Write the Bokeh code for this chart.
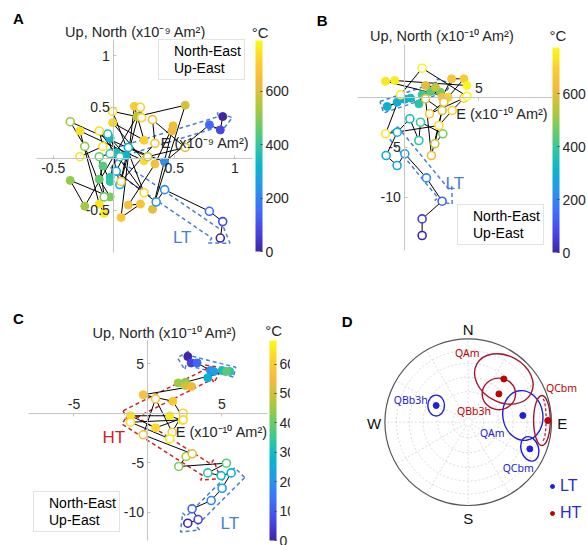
import math
from bokeh.plotting import figure
from bokeh.models import (ColumnDataSource, LinearColorMapper, ColorBar, FixedTicker,
                          Label, Legend, LegendItem, CustomJSTickFormatter)
from bokeh.layouts import row, column
from bokeh.core.properties import value
from bokeh.embed import file_html
from bokeh.resources import INLINE

# ---------------------------------------------------------------- data
# Panel A  (x10^-9 Am^2)
a_ne_temp = [0, 80, 150, 220, 300, 320, 340, 350, 370, 390, 440, 460, 480, 510, 530, 560,
             590, 610, 630, 640, 650, 660, 670, 680, 700, 710, 720, 730, 740, 750, 760]
a_ne_east = [0.90, 0.88, 0.79, 0.42, 0.12, 0.10, -0.03, 0.02, -0.03, -0.03, -0.09, -0.12,
             -0.03, -0.36, -0.24, 0.19, 0.59, 0.32, 0.48, 0.49, 0.34, 0.12, 0.22, 0.06,
             0.17, 0.25, -0.01, 0.25, -0.28, -0.12, -0.08]
a_ne_north = [0.41, 0.28, 0.33, -0.03, 0.11, 0.03, 0.20, 0.06, -0.18, -0.22, -0.07, -0.20,
              -0.37, -0.21, -0.46, 0.41, 0.52, -0.49, 0.27, 0.32, -0.05, -0.45, -0.44, -0.57,
              0.51, 0.18, 0.35, -0.02, 0.27, -0.44, -0.53]
a_ue_temp = [0, 80, 150, 220, 240, 270, 300, 320, 350, 370, 420, 460, 480, 500, 520, 560,
             590, 640, 660, 680, 700, 710, 720, 730, 740, 745, 755]
a_ue_east = [0.88, 0.90, 0.79, 0.42, 0.35, 0.02, 0.12, 0.05, -0.05, 0.05, -0.03, -0.12,
             -0.08, -0.24, -0.36, 0.28, 0.59, 0.32, 0.34, 0.06, 0.22, 0.23, -0.01, 0.25,
             -0.12, -0.09, -0.28]
a_ue_up = [-0.77, -0.61, -0.51, -0.30, -0.42, -0.12, 0.11, -0.25, 0.24, 0.02, 0.05, 0.02,
           -0.37, 0.12, 0.36, 0.02, 0.11, 0.38, 0.15, -0.22, 0.50, 0.40, 0.46, -0.33,
           0.27, 0.12, 0.02]

# Panel B  (x10^-10 Am^2)
b_ne_temp = [250, 270, 290, 300, 330, 370, 400, 440, 470, 560, 600, 640, 660, 680, 700,
             740, 750, 765]
b_ne_east = [-0.07, 0.00, -0.51, -1.19, 0.39, 0.95, 1.17, 1.74, 2.41, 2.07, 1.40, 2.52,
             3.16, 3.99, 2.93, -1.30, -0.68, 4.20]
b_ne_north = [-0.16, -0.20, -0.50, -0.93, -0.10, -0.66, 0.24, 0.57, 0.50, 1.00, 1.17, 0.00,
              1.84, 1.84, 0.00, 1.60, 1.67, 1.17]
b_ue_temp = [0, 60, 130, 200, 250, 270, 290, 300, 330, 370, 400, 470, 560, 590, 600, 620,
             640, 660, 680, 700, 720, 740, 750, 760, 770]
b_ue_east = [1.17, 1.17, 2.52, 1.46, 0.00, -0.52, -1.26, -0.51, 0.34, 0.95, 1.06, 2.57,
             2.03, 2.52, 1.40, 1.80, 2.64, 1.67, 3.99, 3.20, 2.30, -1.30, -0.29, 1.17, 4.20]
b_ue_up = [-13.83, -12.17, -10.40, -8.07, -5.66, -6.83, -5.83, -3.50, -2.16, -4.33, -2.50,
           -3.66, -4.66, -1.33, -0.16, -5.83, -0.50, -1.66, -0.10, -1.33, -2.83, -3.66,
           0.24, 2.90, 0.10]

# Panel C  (x10^-10 Am^2)
c_ne_temp = [0, 60, 120, 180, 220, 260, 300, 330, 380, 420, 450, 500, 540, 570, 590, 610,
             625, 640, 655, 670]
c_ne_east = [2.69, 2.92, 3.32, 4.22, 4.45, 4.04, 5.01, 5.53, 5.30, 2.53, 2.04, 2.53, 2.94,
             -0.32, 1.68, 2.38, 0.51, -1.18, 1.47, 2.31]
c_ne_north = [5.72, 5.08, 5.08, 4.31, 4.21, 3.57, 4.31, 4.21, 4.24, 3.13, 3.06, 2.79, 2.69,
              1.86, 1.21, -0.47, -1.48, -0.26, -0.26, -0.74]
c_ue_temp = [0, 60, 120, 180, 220, 260, 300, 330, 380, 420, 460, 520, 560, 580, 595, 610,
             625, 640, 655]
c_ue_east = [2.69, 3.39, 2.98, 4.27, 5.01, 5.62, 4.94, 4.04, 5.30, 2.08, 2.58, 2.99, -0.32,
             0.51, 1.63, 2.38, 2.38, -1.18, 1.47]
c_ue_up = [-11.11, -10.74, -9.66, -8.82, -7.58, -6.03, -6.30, -6.03, -5.05, -5.38, -4.37,
           -4.10, -2.18, 1.45, -1.92, 0.00, -0.67, -0.91, -2.59]

# Panel D  (equal-area stereonet)
d_sites = ["QBb3h", "QAm", "QCbm"]
d_lt_dec = [297.5, 83.0, 113.4]
d_lt_inc = [54.3, 34.3, 20.5]
d_ht_dec = [47.3, 39.5, 88.8]
d_ht_inc = [48.5, 33.2, 5.0]
d_lt_a95_w = [0.20, 0.48, 0.21]
d_lt_a95_h = [0.25, 0.60, 0.30]
d_lt_a95_rot = [0.0, 0.15, 0.3]
d_ht_a95_w = [0.40, 0.74, 0.20]
d_ht_a95_h = [0.38, 0.56, 0.60]
d_ht_a95_rot = [0.0, -0.5, 0.0]
d_ht_a95_shift = [0.0, 0.0, -0.07]

# ---------------------------------------------------------------- style helpers
FONT = "Liberation Sans"
TXT = "#262626"
LT_BLUE = "#4a7ed6"
HT_RED = "#d02222"
AXLAB = "14.5px"

_anch = [(0.2422, 0.1504, 0.6603), (0.2803, 0.2782, 0.9221), (0.2440, 0.4358, 0.9988),
         (0.1540, 0.5902, 0.9218), (0.0297, 0.7082, 0.8163), (0.1900, 0.7800, 0.6300),
         (0.4400, 0.8000, 0.3800), (0.7200, 0.7800, 0.2200), (0.9500, 0.7300, 0.2400),
         (0.9900, 0.8100, 0.1800), (0.9769, 0.9839, 0.0805)]


def _parula(n=256):
    out = []
    for i in range(n):
        f = i / (n - 1) * (len(_anch) - 1)
        k = min(int(f), len(_anch) - 2)
        t = f - k
        c = [_anch[k][j] * (1 - t) + _anch[k + 1][j] * t for j in range(3)]
        out.append("#%02x%02x%02x" % tuple(int(round(v * 255)) for v in c))
    return out


PARULA = _parula()


def base_fig(w, h, xr, yr, xloc):
    p = figure(width=w, height=h, x_range=xr, y_range=yr, output_backend="svg",
               toolbar_location=None, min_border=0, x_axis_location=xloc,
               y_axis_location="left")
    p.outline_line_color = None
    p.grid.visible = False
    p.title.visible = False
    p.background_fill_color = "white"
    p.border_fill_color = "white"
    return p


def style_axes(p, xticks, yticks, xbounds, ybounds):
    for ax, ticks, bounds in ((p.xaxis[0], xticks, xbounds), (p.yaxis[0], yticks, ybounds)):
        ax.fixed_location = 0
        ax.bounds = bounds
        ax.ticker = FixedTicker(ticks=ticks)
        ax.formatter = CustomJSTickFormatter(code="return String(tick);")
        ax.axis_line_color = "#c4c4c4"
        ax.axis_line_width = 1
        ax.major_tick_line_color = "#c4c4c4"
        ax.major_tick_in = 3
        ax.major_tick_out = 0
        ax.minor_tick_line_color = None
        ax.major_label_text_font = FONT
        ax.major_label_text_font_size = "14px"
        ax.major_label_text_color = TXT
        ax.major_label_standoff = 4


def text(p, x, y, s, size=AXLAB, align="center", color=TXT, bold=False, font=FONT):
    p.add_layout(Label(x=x, y=y, text=s, text_font=font, text_font_size=size,
                       text_align=align, text_baseline="middle", text_color=color,
                       text_font_style="bold" if bold else "normal"))


def add_cbar(p, high, ticks, loc, height, title_xy):
    mapper = LinearColorMapper(palette=PARULA, low=0, high=high)
    cb = ColorBar(color_mapper=mapper, ticker=FixedTicker(ticks=ticks), location=loc,
                  orientation="vertical", width=7, height=height, padding=0,
                  major_label_text_font=FONT, major_label_text_font_size="14px",
                  major_label_text_color=TXT, label_standoff=3,
                  major_tick_line_color="#444444", major_tick_in=2, major_tick_out=0,
                  bar_line_color=None, background_fill_alpha=0, border_line_color=None)
    p.add_layout(cb, "center")
    text(p, title_xy[0], title_xy[1], "\u00b0C", size="15px")
    return mapper


def draw_zij(p, mapper, ne, ue, size=8):
    ne_x, ne_y, ne_t = ne
    ue_x, ue_y, ue_t = ue
    p.line(ne_x, ne_y, line_color="black", line_width=1)
    p.line(ue_x, ue_y, line_color="black", line_width=1)
    cmap = {"field": "t", "transform": mapper}
    p.scatter("x", "y", source=ColumnDataSource(dict(x=ne_x, y=ne_y, t=ne_t)), size=size,
              fill_color=cmap, line_color=cmap, line_width=1)
    p.scatter("x", "y", source=ColumnDataSource(dict(x=ue_x, y=ue_y, t=ue_t)), size=size,
              fill_color="white", line_color=cmap, line_width=1.6)


def add_zij_legend(p, loc):
    l1 = p.line([], [], line_color="black", line_width=1)
    m1 = p.scatter([], [], size=5, fill_color="black", line_color="black")
    l2 = p.line([], [], line_color="black", line_width=1)
    m2 = p.scatter([], [], size=5, fill_color="white", line_color="black", line_width=1)
    leg = Legend(items=[LegendItem(label="North-East", renderers=[l1, m1]),
                        LegendItem(label="Up-East", renderers=[l2, m2])],
                 location=loc, label_text_font=FONT, label_text_font_size="14px",
                 label_text_color="black", glyph_width=11, glyph_height=15, label_height=15,
                 label_standoff=1, spacing=1, padding=3, margin=0,
                 border_line_color="#c8c8c8", border_line_width=1,
                 background_fill_color="white", background_fill_alpha=1)
    p.add_layout(leg, "center")


def arrow_outline(p, tail, head, hw, hhw, hl, color):
    sx = p.width / (p.x_range.end - p.x_range.start)
    sy = p.height / (p.y_range.end - p.y_range.start)
    x0, y0 = tail[0] * sx, tail[1] * sy
    x1, y1 = head[0] * sx, head[1] * sy
    dx, dy = x1 - x0, y1 - y0
    L = math.hypot(dx, dy)
    ux, uy = dx / L, dy / L
    nx, ny = -uy, ux
    bx, by = x1 - ux * hl, y1 - uy * hl
    pts = [(x0 + nx * hw, y0 + ny * hw), (bx + nx * hw, by + ny * hw),
           (bx + nx * hhw, by + ny * hhw), (x1, y1), (bx - nx * hhw, by - ny * hhw),
           (bx - nx * hw, by - ny * hw), (x0 - nx * hw, y0 - ny * hw),
           (x0 + nx * hw, y0 + ny * hw)]
    p.line([q[0] / sx for q in pts], [q[1] / sy for q in pts], line_color=color,
           line_width=1.5, line_dash="4 3")


SUP9 = "x10\u207b\u2079 Am\u00b2"
SUP10 = "x10\u207b\u00b9\u2070 Am\u00b2"

# ---------------------------------------------------------------- panel A
pA = base_fig(290, 280, (-0.936, 1.460), (-1.182, 1.537), "below")
style_axes(pA, [-0.5, 0.5, 1], [-0.5, 0.5, 1], (-0.64, 1.15), (-0.91, 1.16))
mA = add_cbar(pA, 790, [0, 200, 400, 600], (255, 29), 211, (1.21, 1.225))
arrow_outline(pA, (0.0, 0.05), (0.98, 0.40), 5, 9, 13, LT_BLUE)
arrow_outline(pA, (0.0, -0.05), (0.96, -0.82), 6, 12, 18, LT_BLUE)
draw_zij(pA, mA, (a_ne_east, a_ne_north, a_ne_temp), (a_ue_east, a_ue_up, a_ue_temp))
add_zij_legend(pA, (158, 200))
text(pA, 0.18, 1.23, "Up, North (" + SUP9 + ")")
text(pA, 1.12, 0.151, "E (" + SUP9 + ")", align="right")
text(pA, 0.565, -0.767, "LT", size="17px", color=LT_BLUE)
text(pA, -0.788, 1.362, "A", size="15px", color="black", bold=True)

# ---------------------------------------------------------------- panel B
pB = base_fig(297, 280, (-7.72, 12.34), (-18.33, 9.67), "above")
style_axes(pB, [5], [-10, -5], (-3.2, 10.0), (-15.3, 5.3))
mB = add_cbar(pB, 775, [0, 200, 400, 600], (262, 28), 205, (10.35, 6.17))
arrow_outline(pB, (-1.55, -1.0), (3.15, 1.35), 6, 9, 12, LT_BLUE)
arrow_outline(pB, (-0.85, -3.4), (3.2, -10.7), 7, 11, 14, LT_BLUE)
draw_zij(pB, mB, (b_ne_east, b_ne_north, b_ne_temp), (b_ue_east, b_ue_up, b_ue_temp))
add_zij_legend(pB, (167, 35))
text(pB, 2.53, 6.17, "Up, North (" + SUP10 + ")")
text(pB, 9.7, -1.66, "E (" + SUP10 + ")", align="right")
text(pB, 3.38, -8.6, "LT", size="17px", color=LT_BLUE)
text(pB, -5.58, 7.67, "B", size="15px", color="black", bold=True)

# ---------------------------------------------------------------- panel C
pC = base_fig(290, 265, (-9.966, 9.63), (-13.36, 13.40), "above")
style_axes(pC, [-5, 5], [-10, -5, 5], (-8.05, 8.05), (-12.86, 7.34))
mC = add_cbar(pC, 680, [0, 100, 200, 300, 400, 500, 600], (269, 5), 200, (8.5, 8.35))
arrow_outline(pC, (5.85, 4.15), (2.0, 5.6), 5, 10, 10, LT_BLUE)
arrow_outline(pC, (6.2, -6.0), (2.2, -12.0), 7, 12, 15, LT_BLUE)
arrow_outline(pC, (-1.5, -0.3), (5.0, 4.6), 6, 10, 14, HT_RED)
arrow_outline(pC, (-1.5, -0.5), (4.9, -6.6), 7, 12, 16, HT_RED)
draw_zij(pC, mC, (c_ne_east, c_ne_north, c_ne_temp), (c_ue_east, c_ue_up, c_ue_temp))
add_zij_legend(pC, (33, 13))
text(pC, 1.13, 8.08, "Up, North (" + SUP10 + ")")
text(pC, 8.1, -1.92, "E (" + SUP10 + ")", align="right")
text(pC, 5.53, -11.11, "LT", size="17px", color=LT_BLUE)
text(pC, -2.31, -2.42, "HT", size="17px", color=HT_RED)
text(pC, -8.75, 9.57, "C", size="15px", color="black", bold=True)

# ---------------------------------------------------------------- panel D
pD = base_fig(297, 265, (-2.133, 1.432), (-1.480, 1.701), "below")
pD.axis.visible = False


def eqarea(dec, inc):
    r = math.sqrt(2.0) * math.sin(math.radians(90.0 - inc) / 2.0)
    return r * math.sin(math.radians(dec)), r * math.cos(math.radians(dec))


ring_inc = [75, 60, 45, 30, 15]
ring_r = [eqarea(0, i)[1] for i in ring_inc]
pD.circle(x=[0] * len(ring_r), y=[0] * len(ring_r), radius=ring_r, fill_color=None,
          line_color="#d2d2d2", line_dash="2 2", line_width=0.8)
spokes = list(range(0, 360, 30))
pD.segment(x0=[0.04 * math.sin(math.radians(a)) for a in spokes],
           y0=[0.04 * math.cos(math.radians(a)) for a in spokes],
           x1=[math.sin(math.radians(a)) for a in spokes],
           y1=[math.cos(math.radians(a)) for a in spokes],
           line_color="#d2d2d2", line_dash="2 2", line_width=0.8)
pD.circle(x=[0], y=[0], radius=[1.0], fill_color=None, line_color="#555555", line_width=1.2)

LT_D = "#2020d8"
HT_D = "#c00000"
HT_ELL = "#a3162c"
lt_xy = [eqarea(d, i) for d, i in zip(d_lt_dec, d_lt_inc)]
ht_xy = [eqarea(d, i) for d, i in zip(d_ht_dec, d_ht_inc)]

pD.ellipse(x=[q[0] for q in lt_xy], y=[q[1] for q in lt_xy], width=d_lt_a95_w,
           height=d_lt_a95_h, angle=d_lt_a95_rot, fill_color=None, line_color=LT_D,
           line_width=1.4)
pD.ellipse(x=[q[0] + s for q, s in zip(ht_xy, d_ht_a95_shift)], y=[q[1] for q in ht_xy],
           width=d_ht_a95_w, height=d_ht_a95_h, angle=d_ht_a95_rot, fill_color=None,
           line_color=HT_ELL, line_width=1.4)
# reflected (lower hemisphere) part of the QCbm HT cone
cx = ht_xy[2][0] + d_ht_a95_shift[2] + 0.01
cy = ht_xy[2][1] + 0.01
tt = [math.radians(a) for a in range(-90, 91, 10)]
pD.line([cx + 0.04 * math.cos(t) for t in tt], [cy + 0.25 * math.sin(t) for t in tt],
        line_color=HT_ELL, line_width=1.2, line_dash="3 2")

r_lt = pD.scatter([q[0] for q in lt_xy], [q[1] for q in lt_xy], size=6, fill_color=LT_D,
                  line_color=LT_D)
r_ht = pD.scatter([q[0] for q in ht_xy], [q[1] for q in ht_xy], size=6, fill_color=HT_D,
                  line_color=HT_D)

lt_lab = [(-0.69, 0.27), (0.29, -0.13), (0.60, -0.55)]
ht_lab = [(0.07, 0.13), (-0.01, 0.83), (1.12, 0.41)]
pD.text(x=[q[0] for q in lt_lab], y=[q[1] for q in lt_lab], text=d_sites,
        text_font=value("Noto Sans"), text_font_size="10.5px", text_color=LT_D,
        text_align="center", text_baseline="middle")
pD.text(x=[q[0] for q in ht_lab], y=[q[1] for q in ht_lab], text=d_sites,
        text_font=value("Noto Sans"), text_font_size="10.5px", text_color=HT_D,
        text_align="center", text_baseline="middle")

card = ["N", "E", "S", "W"]
card_ang = [0, 90, 180, 270]
pD.text(x=[1.13 * math.sin(math.radians(a)) for a in card_ang],
        y=[1.13 * math.cos(math.radians(a)) - 0.02 for a in card_ang], text=card,
        text_font=value(FONT), text_font_size="15px", text_color="#111111",
        text_align="center", text_baseline="middle")

legD = Legend(items=[LegendItem(label="LT", renderers=[r_lt]),
                     LegendItem(label="HT", renderers=[r_ht])],
              location=(257, 21), glyph_width=10, glyph_height=22, label_height=22,
              spacing=5, padding=0, margin=0, border_line_color=None,
              background_fill_alpha=0, label_text_font=FONT, label_text_font_size="16px",
              label_text_color="#2a2ad5", label_standoff=3)
pD.add_layout(legD, "center")
text(pD, -1.453, 1.212, "D", size="15px", color="black", bold=True)

layout = column(row(pA, pB), row(pC, pD))
open("out.html", "w").write(file_html(layout, INLINE))
